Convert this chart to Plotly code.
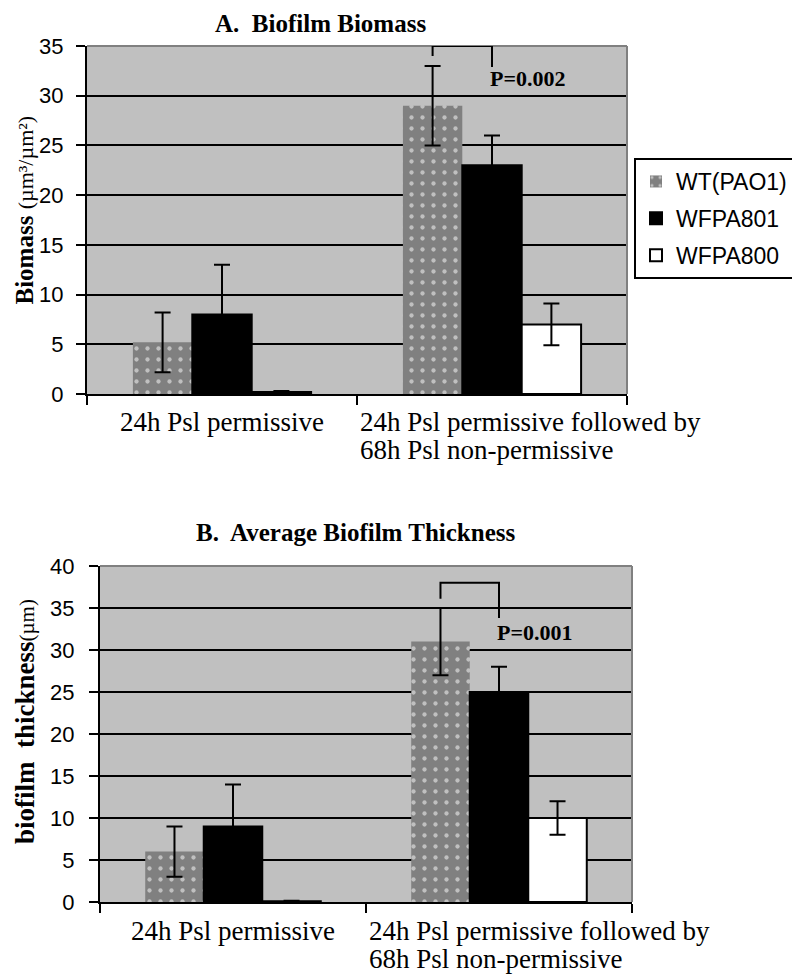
import plotly.graph_objects as go

categories = ["24h Psl permissive", "24h Psl permissive followed by<br>68h Psl non-permissive"]
series = ["WT(PAO1)", "WFPA801", "WFPA800"]

biomass = {"WT(PAO1)": [5.2, 29.0], "WFPA801": [8.0, 23.0], "WFPA800": [0.2, 7.0]}
biomass_err = {"WT(PAO1)": [3.0, 4.0], "WFPA801": [5.0, 3.0], "WFPA800": [0.1, 2.1]}

thickness = {"WT(PAO1)": [6.0, 31.0], "WFPA801": [9.0, 25.0], "WFPA800": [0.1, 10.0]}
thickness_err = {"WT(PAO1)": [3.0, 4.0], "WFPA801": [5.0, 3.0], "WFPA800": [0.05, 2.0]}

p_values = ["P=0.002", "P=0.001"]
yticks_a = [0, 5, 10, 15, 20, 25, 30, 35]
yticks_b = [0, 5, 10, 15, 20, 25, 30, 35, 40]

SANS = "Liberation Sans, Arial, sans-serif"
SERIF = "Liberation Serif, Times New Roman, serif"

# page has an 8px body margin; figure sized to fill the rest of the window
OFF = 8
W, H = 800 - OFF, 976 - OFF


def fx(p):
    return (p - OFF) / W


def fy(p):
    return 1 - (p - OFF) / H


styles = {
    "WT(PAO1)": dict(color="#808080", line=dict(color="#808080", width=0),
                     pattern=dict(shape=".", fgcolor="white", fillmode="overlay", size=11, solidity=0.12)),
    "WFPA801": dict(color="black", line=dict(color="black", width=2)),
    "WFPA800": dict(color="white", line=dict(color="black", width=2)),
}

fig = go.Figure()
for s in series:
    fig.add_trace(go.Bar(x=categories, y=biomass[s], name=s, marker=styles[s], legendgroup=s,
                         error_y=dict(type="data", array=biomass_err[s], color="black", thickness=2, width=8),
                         xaxis="x", yaxis="y", showlegend=True))
for s in series:
    fig.add_trace(go.Bar(x=categories, y=thickness[s], name=s, marker=styles[s], legendgroup=s,
                         error_y=dict(type="data", array=thickness_err[s], color="black", thickness=2, width=8),
                         xaxis="x2", yaxis="y2", showlegend=False))

axis_common = dict(showline=True, linecolor="black", linewidth=2, ticks="outside",
                   ticklen=9, tickwidth=2, tickcolor="black", automargin=False)
xcat = dict(type="category", tickson="boundaries", categoryorder="array", categoryarray=categories,
            range=[-0.5, 1.5], showticklabels=False, showgrid=False)

fig.update_layout(
    template="none",
    width=W, height=H, margin=dict(l=0, r=0, t=0, b=0, autoexpand=False),
    paper_bgcolor="white", plot_bgcolor="#c0c0c0",
    barmode="group", bargap=0.34, bargroupgap=0,
    xaxis=dict(domain=[fx(87), fx(627)], anchor="y", **xcat, **axis_common),
    yaxis=dict(domain=[fy(394), fy(46)], anchor="x", range=[0, 35], tickvals=yticks_a,
               showgrid=True, gridcolor="black", gridwidth=2, zeroline=False, ticklabelstandoff=8,
               tickfont=dict(family=SANS, size=22, color="black"), **axis_common),
    xaxis2=dict(domain=[fx(100), fx(632)], anchor="y2", **xcat, **axis_common),
    yaxis2=dict(domain=[fy(902), fy(566)], anchor="x2", range=[0, 40], tickvals=yticks_b,
                showgrid=True, gridcolor="black", gridwidth=2, zeroline=False, ticklabelstandoff=10,
                tickfont=dict(family=SANS, size=22, color="black"), **axis_common),
    legend=dict(x=fx(634), y=fy(158), xanchor="left", yanchor="top", tracegroupgap=4,
                bgcolor="white", bordercolor="black", borderwidth=2,
                font=dict(family=SANS, size=23, color="black"), itemwidth=30),
)

# category labels (left-aligned second label, as in the original)
for xr, line_ys in [("x domain", (422, 450)), ("x2 domain", (931, 959))]:
    fig.add_annotation(x=0.25, y=fy(line_ys[0]), xref=xr, yref="paper", text=categories[0],
                       showarrow=False, xanchor="center", yanchor="middle",
                       font=dict(family=SERIF, size=27, color="black"))
    for i, line in enumerate(categories[1].split("<br>")):
        fig.add_annotation(x=0.5, y=fy(line_ys[i]), xref=xr, yref="paper", text=line, xshift=1,
                           showarrow=False, xanchor="left", yanchor="middle", align="left",
                           font=dict(family=SERIF, size=27, color="black"))

# frame (top & right, gray)
for xr, yr in [("x domain", "y domain"), ("x2 domain", "y2 domain")]:
    fig.add_shape(type="line", xref=xr, yref=yr, x0=0, x1=1, y0=1, y1=1, line=dict(color="#808080", width=2))
    fig.add_shape(type="line", xref=xr, yref=yr, x0=1, x1=1, y0=0, y1=1, line=dict(color="#808080", width=2))

# significance brackets (positions in x-domain units: category 1 spans 0.5..1)
off = (1 - 0.34) / 3
for xr, yr, top, l_end, r_end, ptxt, py in [("x domain", "y", 35, 34.0, 32.9, p_values[0], 31.7),
                                             ("x2 domain", "y2", 38, 36.1, 33.8, p_values[1], 32.1)]:
    xl = 0.75 - off / 2
    xrr = 0.75
    fig.add_shape(type="path", xref=xr, yref=yr,
                  path=f"M {xl} {l_end} L {xl} {top} L {xrr} {top} L {xrr} {r_end}",
                  line=dict(color="black", width=2))
    fig.add_annotation(x=xrr - 0.008, y=py, xref=xr, yref=yr, text=f"<b>{ptxt}</b>", showarrow=False,
                       xanchor="left", yanchor="middle", font=dict(family=SERIF, size=22, color="black"))

# titles
fig.add_annotation(x=fx(320), y=1, xref="paper", yref="paper", text="<b>A.  Biofilm Biomass</b>",
                   showarrow=False, xanchor="center", yanchor="top", font=dict(family=SERIF, size=25, color="black"))
fig.add_annotation(x=fx(355), y=fy(532), xref="paper", yref="paper", text="<b>B.  Average Biofilm Thickness</b>",
                   showarrow=False, xanchor="center", yanchor="middle", font=dict(family=SERIF, size=25, color="black"))

# y axis titles
fig.add_annotation(x=0, y=fy(210), xref="paper", yref="paper", textangle=-90,
                   text="<b>Biomass</b> <span style='font-size:22px'>(µm³/µm²)</span>",
                   showarrow=False, xanchor="left", yanchor="middle", font=dict(family=SERIF, size=25, color="black"))
fig.add_annotation(x=0, y=fy(722), xref="paper", yref="paper", textangle=-90,
                   text="<b>biofilm  thickness</b><span style='font-size:21px'>(µm)</span>",
                   showarrow=False, xanchor="left", yanchor="middle", font=dict(family=SERIF, size=27, color="black"))

fig.write_html("out.html")
